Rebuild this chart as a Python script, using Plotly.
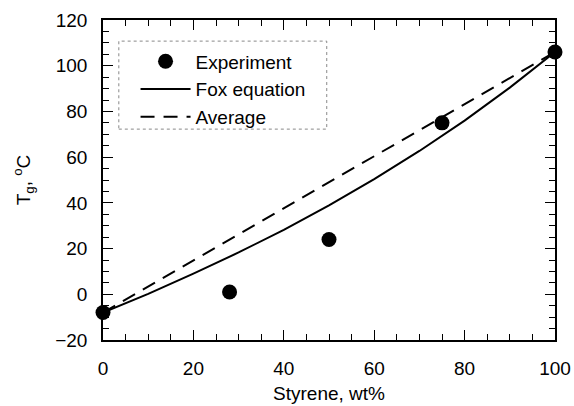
import plotly.graph_objects as go

# Experimental data
exp_x = [0, 28, 50, 75, 100]
exp_y = [-8, 1, 24, 75, 106]

# Fox equation curve
fox_x = [0, 10, 20, 30, 40, 50, 60, 70, 80, 90, 100]
fox_y = [-8, 0.2, 9.0, 18.3, 28.2, 38.9, 50.4, 62.7, 76.0, 90.4, 106]

# Average (linear mixing)
avg_x = [0, 100]
avg_y = [-8, 106]

x_ticks = [0, 20, 40, 60, 80, 100]
y_ticks = [-20, 0, 20, 40, 60, 80, 100, 120]

font = "Liberation Sans, Arial, sans-serif"

x_minor = [v for v in range(0, 101, 5) if v % 20]
y_minor = [v for v in range(-20, 121, 5) if v % 20]

fig = go.Figure()
fig.add_trace(go.Scatter(x=avg_x, y=avg_y, mode="lines", name="Average",
                         line=dict(color="black", width=2, dash="14px,9px")))
fig.add_trace(go.Scatter(x=fox_x, y=fox_y, mode="lines", name="Fox equation",
                         line=dict(color="black", width=2)))
fig.add_trace(go.Scatter(x=exp_x, y=exp_y, mode="markers", name="Experiment",
                         marker=dict(color="black", size=15), cliponaxis=False))

axis_common = dict(
    showgrid=False, zeroline=False, showline=True, linecolor="black", linewidth=1.5,
    mirror="allticks", ticks="inside", ticklen=10, tickwidth=1.3, tickcolor="black",
    tickfont=dict(family=font, size=19, color="black"), automargin=False,
)

fig.update_layout(
    width=574, height=406,
    margin=dict(l=103, r=19, t=20, b=66),
    paper_bgcolor="white", plot_bgcolor="white",
    font=dict(family=font, color="black"),
    xaxis=dict(range=[0, 100], tickmode="array", tickvals=x_ticks, ticklabelstandoff=10,
               minor=dict(tickmode="array", tickvals=x_minor, ticks="inside", ticklen=6,
                          tickcolor="black", tickwidth=1.2, showgrid=False),
               title=dict(text="Styrene, wt%", font=dict(family=font, size=19), standoff=9),
               **axis_common),
    yaxis=dict(range=[-20, 120], tickmode="array", tickvals=y_ticks, ticklabelstandoff=10,
               minor=dict(tickmode="array", tickvals=y_minor, ticks="inside", ticklen=6,
                          tickcolor="black", tickwidth=1.2, showgrid=False),
               title=dict(text="T<sub>g</sub>, <sup>o</sup>C", font=dict(family=font, size=19), standoff=20),
               **axis_common),
    legend=dict(x=0.072, y=0.93, xanchor="left", yanchor="top",
                bgcolor="rgba(0,0,0,0)", borderwidth=0,
                font=dict(family=font, size=19, color="black"),
                traceorder="reversed", tracegroupgap=0, itemwidth=50),
    shapes=[dict(type="rect", xref="paper", yref="paper",
                 x0=0.035, x1=0.495, y0=0.659, y1=0.934,
                 line=dict(color="#888888", width=1, dash="dot"),
                 fillcolor="white", layer="below")],
    showlegend=True,
)

fig.write_html("out.html")
